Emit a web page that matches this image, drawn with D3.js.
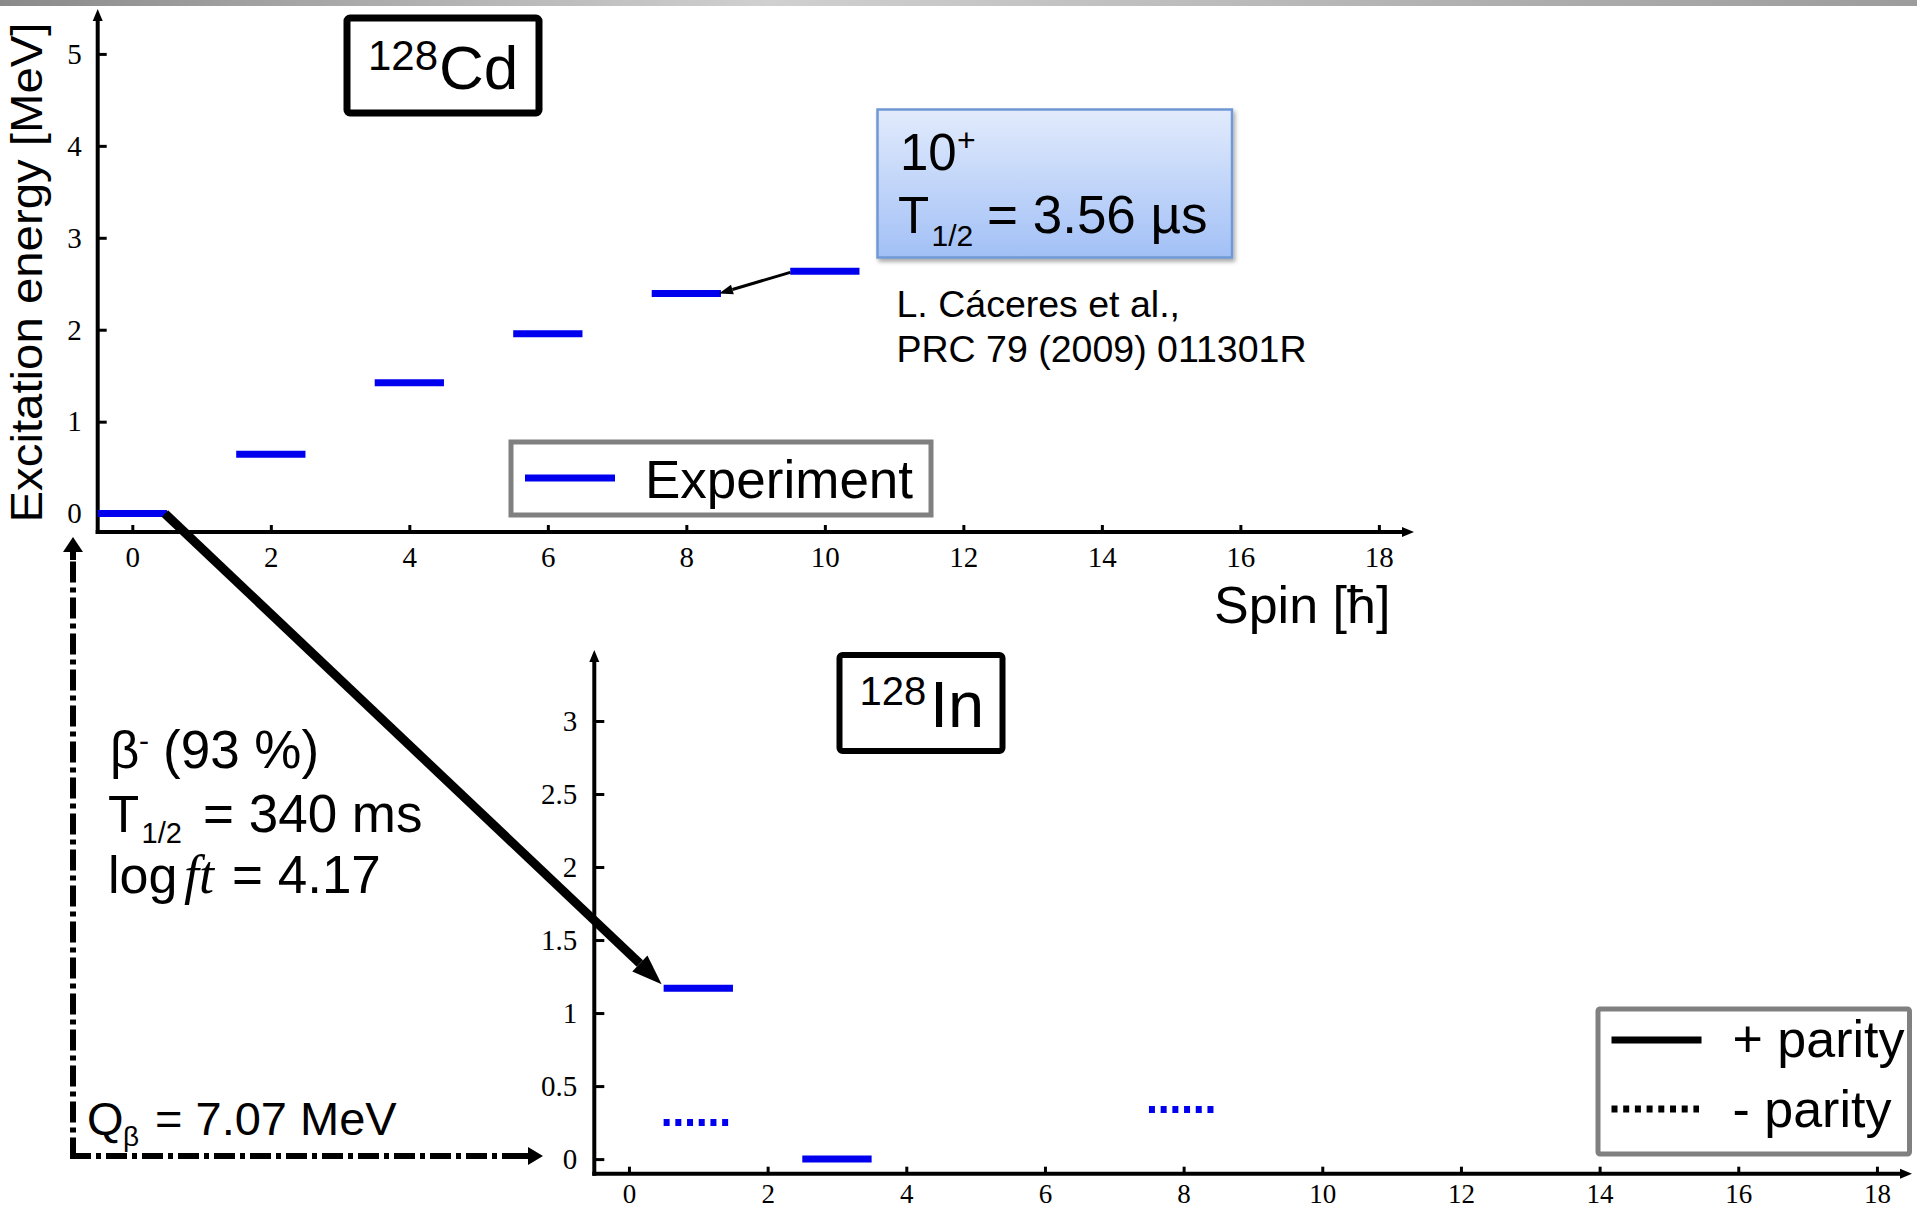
<!DOCTYPE html>
<html>
<head>
    <title>128Cd / 128In levels</title>
    <script src="https://d3js.org/d3.v7.min.js"></script>
    <style>
        body { margin: 0; background: #fff; }
        .sans { font-family: "Liberation Sans", Arial, sans-serif; fill: #000; }
        .tick text { font-family: "Liberation Serif", "Times New Roman", serif; font-size: 29px; fill: #000; }
        .tick line { stroke: #000; stroke-width: 3px; }
        .xbot .tick text { font-size: 27px; }
    </style>
</head>
<body>
<div id="chart"></div>
<script>
    // 128Cd yrast levels (experiment)
    const cdSpins = [0, 2, 4, 6, 8, 10];
    const cdEnergies = [0, 0.645, 1.424, 1.955, 2.395, 2.635];

    // 128In levels, parity '+' solid, '-' dotted
    const inSpins = [1, 1, 3, 8];
    const inEnergies = [1.17, 0.25, 0, 0.34];
    const inParity = ['+', '-', '+', '-'];

    const spinTicks = [0, 2, 4, 6, 8, 10, 12, 14, 16, 18];
    const cdEnergyTicks = [0, 1, 2, 3, 4, 5];
    const inEnergyTicks = [0, 0.5, 1, 1.5, 2, 2.5, 3];

    const W = 1917, H = 1212;
    const blue = "#0000ee";

    const svg = d3.select("#chart").append("svg")
        .attr("width", W).attr("height", H);

    const defs = svg.append("defs");
    const bar = defs.append("linearGradient").attr("id", "topbar");
    bar.append("stop").attr("offset", "0").attr("stop-color", "#8a8a8a");
    bar.append("stop").attr("offset", "0.4").attr("stop-color", "#d0d0d0");
    bar.append("stop").attr("offset", "1").attr("stop-color", "#9c9c9c");
    const boxGrad = defs.append("linearGradient").attr("id", "bluebox")
        .attr("x1", 0).attr("y1", 0).attr("x2", 0).attr("y2", 1);
    boxGrad.append("stop").attr("offset", "0").attr("stop-color", "#e2ebfc");
    boxGrad.append("stop").attr("offset", "1").attr("stop-color", "#a2c0f6");
    defs.append("filter").attr("id", "shadow")
        .attr("x", "-10%").attr("y", "-10%").attr("width", "130%").attr("height", "140%")
        .append("feDropShadow").attr("dx", 2).attr("dy", 3).attr("stdDeviation", 2)
        .attr("flood-color", "#000").attr("flood-opacity", 0.35);

    svg.append("rect").attr("x", 0).attr("y", 0).attr("width", W).attr("height", 6)
        .attr("fill", "url(#topbar)");

    // arrow helper: shaft + filled head
    function arrow(g, x1, y1, x2, y2, w, headLen, headW, dash) {
        const a = Math.atan2(y2 - y1, x2 - x1);
        const bx = x2 - headLen * Math.cos(a), by = y2 - headLen * Math.sin(a);
        const px = Math.sin(a) * headW / 2, py = -Math.cos(a) * headW / 2;
        g.append("line").attr("x1", x1).attr("y1", y1).attr("x2", bx).attr("y2", by)
            .attr("stroke", "#000").attr("stroke-width", w)
            .attr("stroke-dasharray", dash || null);
        g.append("path")
            .attr("d", `M${x2},${y2}L${bx + px},${by + py}L${bx - px},${by - py}Z`)
            .attr("fill", "#000");
    }

    // ---------- top panel: 128Cd ----------
    const xTop = d3.scaleLinear().domain([-0.5, 18.5]).range([97.7, 1413.5]);
    const yTop = d3.scaleLinear().domain([-0.2, 5.47]).range([532, 10.7]);

    const cdG = svg.append("g");
    cdG.append("g").attr("transform", "translate(0,532)")
        .call(d3.axisBottom(xTop).tickValues(spinTicks).tickSize(-7).tickPadding(14))
        .call(g => g.select(".domain").remove());
    cdG.append("g").attr("transform", "translate(97.7,0)")
        .call(d3.axisLeft(yTop).tickValues(cdEnergyTicks).tickFormat(d3.format("d"))
            .tickSize(-9).tickPadding(16))
        .call(g => g.select(".domain").remove());
    arrow(cdG, 95.7, 532, 1414, 532, 4, 12, 10);
    arrow(cdG, 97.7, 534, 97.7, 9, 4, 12, 10);

    cdG.append("g").selectAll("line")
        .data(cdSpins.map((s, i) => ({ s, e: cdEnergies[i] })))
        .join("line")
        .attr("x1", d => xTop(d.s - 0.5)).attr("x2", d => xTop(d.s + 0.5))
        .attr("y1", d => yTop(d.e)).attr("y2", d => yTop(d.e))
        .attr("stroke", blue).attr("stroke-width", 7);

    // 10+ -> 8+ isomer arrow
    arrow(cdG, xTop(9.5), yTop(cdEnergies[5]) + 1, xTop(8.5) - 2, yTop(cdEnergies[4]), 3, 14, 10);

    cdG.append("text").attr("class", "sans")
        .attr("transform", "translate(42,272.5) rotate(-90)")
        .attr("text-anchor", "middle").attr("font-size", 44)
        .attr("textLength", 500).attr("lengthAdjust", "spacingAndGlyphs")
        .text("Excitation energy [MeV]");

    cdG.append("text").attr("class", "sans")
        .attr("x", 1214).attr("y", 623).attr("font-size", 52).text("Spin [ħ]");

    // 128Cd label box
    cdG.append("rect").attr("x", 347).attr("y", 18).attr("width", 192).attr("height", 95)
        .attr("rx", 3).attr("fill", "none").attr("stroke", "#000").attr("stroke-width", 7);
    cdG.append("text").attr("class", "sans").attr("x", 368).attr("y", 69.5)
        .attr("font-size", 42).text("128");
    cdG.append("text").attr("class", "sans").attr("x", 439).attr("y", 88.6)
        .attr("font-size", 62).text("Cd");

    // Experiment legend
    cdG.append("rect").attr("x", 511).attr("y", 442).attr("width", 420).attr("height", 73)
        .attr("fill", "#fff").attr("stroke", "#808080").attr("stroke-width", 5);
    cdG.append("line").attr("x1", 525).attr("x2", 615).attr("y1", 478).attr("y2", 478)
        .attr("stroke", blue).attr("stroke-width", 7);
    cdG.append("text").attr("class", "sans").attr("x", 645).attr("y", 497.5)
        .attr("font-size", 53).text("Experiment");

    // isomer info box
    cdG.append("rect").attr("x", 877.5).attr("y", 109.5).attr("width", 354.5).attr("height", 148)
        .attr("fill", "url(#bluebox)").attr("stroke", "#7098d4").attr("stroke-width", 2.5)
        .attr("filter", "url(#shadow)");
    cdG.append("text").attr("class", "sans").attr("x", 900).attr("y", 170)
        .attr("font-size", 51).text("10");
    cdG.append("text").attr("class", "sans").attr("x", 957).attr("y", 151)
        .attr("font-size", 32).text("+");
    cdG.append("text").attr("class", "sans").attr("x", 898).attr("y", 233)
        .attr("font-size", 51).text("T");
    cdG.append("text").attr("class", "sans").attr("x", 931.5).attr("y", 245.5)
        .attr("font-size", 30).text("1/2");
    cdG.append("text").attr("class", "sans").attr("x", 987).attr("y", 233)
        .attr("font-size", 53).text("= 3.56 µs");

    cdG.append("text").attr("class", "sans").attr("x", 896.5).attr("y", 316.5)
        .attr("font-size", 37.5).text("L. Cáceres et al.,");
    cdG.append("text").attr("class", "sans").attr("x", 896.5).attr("y", 361.5)
        .attr("font-size", 37.5).text("PRC 79 (2009) 011301R");

    // ---------- bottom panel: 128In ----------
    const xBot = d3.scaleLinear().domain([-0.5, 18.5]).range([594.3, 1911.6]);
    const yBot = d3.scaleLinear().domain([-0.1, 3.475]).range([1173.7, 651.6]);

    const inG = svg.append("g");
    inG.append("g").attr("class", "xbot").attr("transform", "translate(0,1173.7)")
        .call(d3.axisBottom(xBot).tickValues(spinTicks).tickSize(-7).tickPadding(10))
        .call(g => g.select(".domain").remove());
    inG.append("g").attr("transform", "translate(594.3,0)")
        .call(d3.axisLeft(yBot).tickValues(inEnergyTicks).tickFormat(d3.format(""))
            .tickSize(-10).tickPadding(17))
        .call(g => g.select(".domain").remove());
    arrow(inG, 592.3, 1173.7, 1912, 1173.7, 4, 12, 10);
    arrow(inG, 594.3, 1175.7, 594.3, 650, 4, 12, 10);

    inG.append("g").selectAll("line")
        .data(inSpins.map((s, i) => ({ s, e: inEnergies[i], p: inParity[i] })))
        .join("line")
        .attr("x1", d => xBot(d.s - 0.5)).attr("x2", d => xBot(d.s + 0.5))
        .attr("y1", d => yBot(d.e)).attr("y2", d => yBot(d.e))
        .attr("stroke", blue).attr("stroke-width", 7)
        .attr("stroke-dasharray", d => d.p === '-' ? "6,5.7" : null);

    // 128In label box
    inG.append("rect").attr("x", 839.5).attr("y", 655).attr("width", 163).attr("height", 96)
        .attr("rx", 3).attr("fill", "none").attr("stroke", "#000").attr("stroke-width", 6);
    inG.append("text").attr("class", "sans").attr("x", 859.5).attr("y", 705)
        .attr("font-size", 40).text("128");
    inG.append("text").attr("class", "sans").attr("x", 930).attr("y", 726.5)
        .attr("font-size", 65).text("In");

    // parity legend
    inG.append("rect").attr("x", 1598).attr("y", 1009).attr("width", 311.5).attr("height", 145)
        .attr("rx", 2).attr("fill", "#fff").attr("stroke", "#808080").attr("stroke-width", 5);
    inG.append("line").attr("x1", 1611.5).attr("x2", 1701.5).attr("y1", 1040).attr("y2", 1040)
        .attr("stroke", "#000").attr("stroke-width", 7);
    inG.append("line").attr("x1", 1611.5).attr("x2", 1699).attr("y1", 1109).attr("y2", 1109)
        .attr("stroke", "#000").attr("stroke-width", 7).attr("stroke-dasharray", "6,5.7");
    inG.append("text").attr("class", "sans").attr("x", 1732.5).attr("y", 1056.5)
        .attr("font-size", 52).text("+ parity");
    inG.append("text").attr("class", "sans").attr("x", 1732.5).attr("y", 1126.5)
        .attr("font-size", 52).text("- parity");

    // ---------- beta decay annotations ----------
    const ann = svg.append("g");
    arrow(ann, xTop(0.5) - 2, yTop(0), xBot(0.5) - 2, yBot(inEnergies[0]) - 4, 9, 30, 22);

    // Q-value dash-dot bracket
    const dd = "21,5,5,5";
    ann.append("line").attr("x1", 73).attr("x2", 73).attr("y1", 1158.5).attr("y2", 552)
        .attr("stroke", "#000").attr("stroke-width", 6).attr("stroke-dasharray", dd);
    arrow(ann, 73, 560, 73, 537, 6, 15, 20);
    ann.append("line").attr("x1", 70).attr("x2", 528).attr("y1", 1156).attr("y2", 1156)
        .attr("stroke", "#000").attr("stroke-width", 6).attr("stroke-dasharray", dd);
    arrow(ann, 520, 1156, 543, 1156, 6, 15, 18);

    ann.append("text").attr("class", "sans").attr("x", 110).attr("y", 768)
        .attr("font-size", 51).text("β");
    ann.append("text").attr("class", "sans").attr("x", 139).attr("y", 751)
        .attr("font-size", 30).text("-");
    ann.append("text").attr("class", "sans").attr("x", 163).attr("y", 768)
        .attr("font-size", 53).text("(93 %)");

    ann.append("text").attr("class", "sans").attr("x", 108).attr("y", 831.5)
        .attr("font-size", 51).text("T");
    ann.append("text").attr("class", "sans").attr("x", 141.5).attr("y", 843)
        .attr("font-size", 29).text("1/2");
    ann.append("text").attr("class", "sans").attr("x", 203).attr("y", 831.5)
        .attr("font-size", 53).text("= 340 ms");

    ann.append("text").attr("class", "sans").attr("x", 108).attr("y", 893)
        .attr("font-size", 52).text("log");
    ann.append("text").attr("x", 184).attr("y", 893)
        .attr("font-family", "'Liberation Serif', 'Times New Roman', serif")
        .attr("font-style", "italic").attr("font-size", 54).text("ft");
    ann.append("text").attr("class", "sans").attr("x", 232).attr("y", 893)
        .attr("font-size", 53).text("= 4.17");

    ann.append("text").attr("class", "sans").attr("x", 87).attr("y", 1134.5)
        .attr("font-size", 47).text("Q");
    ann.append("text").attr("class", "sans").attr("x", 123).attr("y", 1146)
        .attr("font-size", 28).text("β");
    ann.append("text").attr("class", "sans").attr("x", 155).attr("y", 1134.5)
        .attr("font-size", 47).text("= 7.07 MeV");
</script>
</body>
</html>
